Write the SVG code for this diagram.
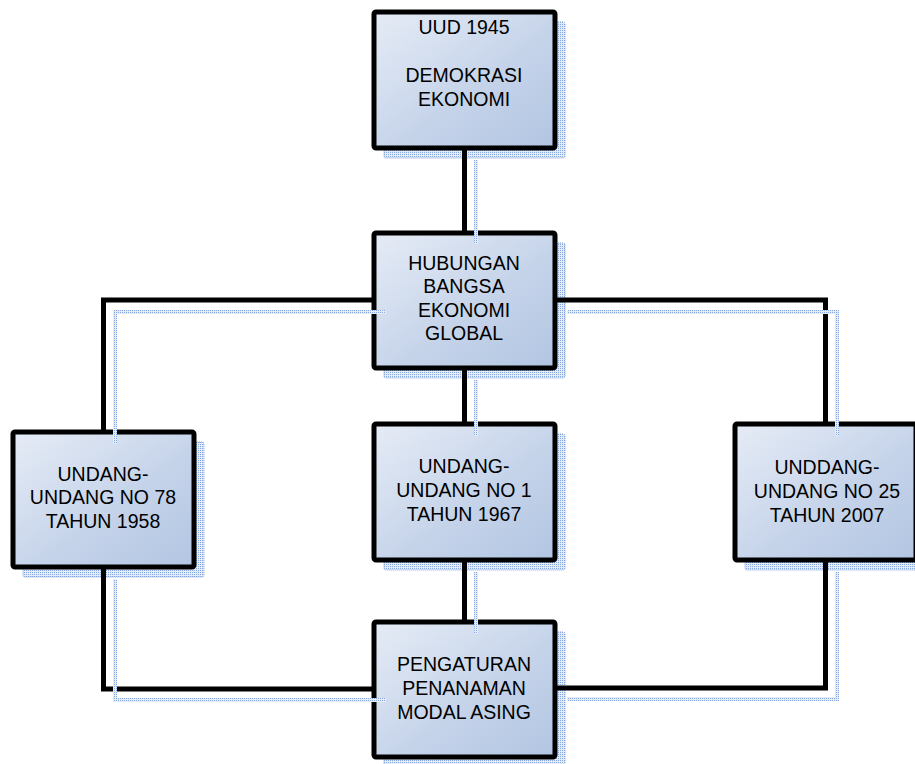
<svg xmlns="http://www.w3.org/2000/svg" width="915" height="764" viewBox="0 0 915 764">
<defs>
<linearGradient id="fill" x1="0" y1="0" x2="1" y2="1">
<stop offset="0" stop-color="#e6ecf6"/>
<stop offset="0.55" stop-color="#c6d4ea"/>
<stop offset="1" stop-color="#b2c5e2"/>
</linearGradient>
<pattern id="dots" patternUnits="userSpaceOnUse" width="2" height="2">
<rect width="2" height="2" fill="#e4ecf8"/>
<rect width="1" height="1" fill="#86a8de"/>
</pattern>
<style>
.box{fill:url(#fill);stroke:#000;stroke-width:5;}
.shadow{fill:url(#dots);stroke:#7c9fdb;stroke-width:1;stroke-dasharray:1 1;}
.con{fill:none;stroke:#000;stroke-width:5;}
.cshadow{fill:none;stroke:url(#dots);stroke-width:4;}
text{font-family:'Liberation Sans',Arimo,Arial,Helvetica,sans-serif;font-size:19.5px;fill:#000;text-anchor:middle;}
</style>
</defs>
<g id="shadows">
<rect class="shadow" x="384" y="22" width="181" height="136" rx="2"/>
<rect class="shadow" x="384" y="243" width="181" height="135" rx="2"/>
<rect class="shadow" x="23" y="442" width="181" height="135" rx="2"/>
<rect class="shadow" x="384" y="434" width="181" height="136" rx="2"/>
<rect class="shadow" x="384" y="632" width="181" height="135" rx="2"/>
<rect class="shadow" x="745" y="434" width="181" height="136" rx="2"/>
</g>
<g id="node-uud">
<rect class="box" x="374" y="12" width="181" height="136" rx="2"/>
<text x="464" y="34">UUD 1945</text>
<text x="464" y="82">DEMOKRASI</text>
<text x="464" y="106">EKONOMI</text>
</g>
<g id="node-hubungan">
<rect class="box" x="374" y="233" width="181" height="135" rx="2"/>
<text x="464" y="270">HUBUNGAN</text>
<text x="464" y="293">BANGSA</text>
<text x="464" y="317">EKONOMI</text>
<text x="464" y="340">GLOBAL</text>
</g>
<g id="node-uu78">
<rect class="box" x="13" y="432" width="181" height="135" rx="2"/>
<text x="103" y="481">UNDANG-</text>
<text x="103" y="504">UNDANG NO 78</text>
<text x="103" y="528">TAHUN 1958</text>
</g>
<g id="node-uu1">
<rect class="box" x="374" y="424" width="181" height="136" rx="2"/>
<text x="464" y="473">UNDANG-</text>
<text x="464" y="497">UNDANG NO 1</text>
<text x="464" y="521">TAHUN 1967</text>
</g>
<g id="node-uu25">
<rect class="box" x="735" y="424" width="181" height="136" rx="2"/>
<text x="827" y="474">UNDDANG-</text>
<text x="827" y="498">UNDANG NO 25</text>
<text x="827" y="522">TAHUN 2007</text>
</g>
<g id="node-pma">
<rect class="box" x="374" y="622" width="181" height="135" rx="2"/>
<text x="464" y="671">PENGATURAN</text>
<text x="464" y="695">PENANAMAN</text>
<text x="464" y="719">MODAL ASING</text>
</g>
<g id="connectors">
<path class="con" d="M464.5 148 V233"/>
<path class="con" d="M464.5 368 V424"/>
<path class="con" d="M464.5 560 V622"/>
<path class="con" d="M374 300 H103.5 V432"/>
<path class="con" d="M555 300 H825.5 V424"/>
<path class="con" d="M103.5 567 V689 H374"/>
<path class="con" d="M825.5 560 V688 H555"/>
</g>
<g id="connector-shadows">
<path class="cshadow" d="M476 160 V244"/>
<path class="cshadow" d="M476 380 V436"/>
<path class="cshadow" d="M476 572 V634"/>
<path class="cshadow" d="M386 312 H115 V444"/>
<path class="cshadow" d="M567 312 H837 V436"/>
<path class="cshadow" d="M115 579 V700 H386"/>
<path class="cshadow" d="M837 572 V699 H567"/>
</g>
</svg>
